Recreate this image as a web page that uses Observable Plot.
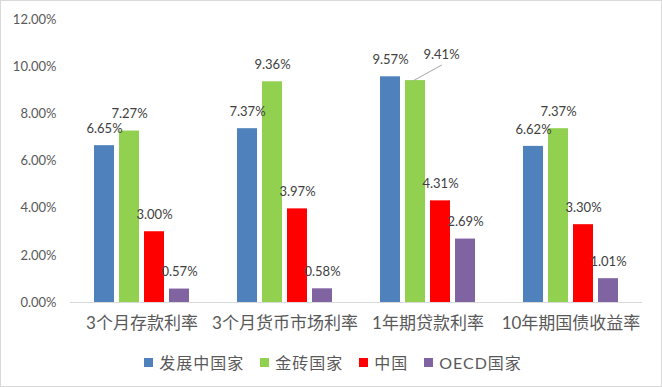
<!DOCTYPE html>
<html>
<head>
<meta charset="utf-8">
<script src="https://cdn.jsdelivr.net/npm/d3@7"></script>
<script src="https://cdn.jsdelivr.net/npm/@observablehq/plot@0.6"></script>
<style>
  html, body { margin: 0; padding: 0; background: #fff; }
  body { width: 662px; height: 387px; position: relative; overflow: hidden;
         font-family: Lato, "Noto Sans CJK SC", sans-serif; }
  #frame { position: absolute; left: 0; top: 0; width: 660px; height: 385px;
           border: 1px solid #d9d9d9; pointer-events: none; }
  #legend { display: flex; justify-content: center; align-items: center;
            height: 44px; font-size: 16px; color: #595959; padding-left: 4px; letter-spacing: 1px; }
  .item { display: flex; align-items: center; margin: 0 8px; }
  .sw { width: 9px; height: 9px; margin-right: 6px; }
</style>
</head>
<body>
<div id="chart"></div>
<div id="legend"></div>
<div id="frame"></div>
<script>
const categories = ["3个月存款利率", "3个月货币市场利率", "1年期贷款利率", "10年期国债收益率"];
const series = ["发展中国家", "金砖国家", "中国", "OECD国家"];
const developing = [6.65, 7.37, 9.57, 6.62];
const brics = [7.27, 9.36, 9.41, 7.37];
const china = [3.00, 3.97, 4.31, 3.30];
const oecd = [0.57, 0.58, 2.69, 1.01];
const yTicks = [0, 2, 4, 6, 8, 10, 12];
const colors = ["#4F81BD", "#92D050", "#FF0000", "#8064A2"];

const seriesValues = [developing, brics, china, oecd];
const data = [];
categories.forEach((c, ci) => {
  series.forEach((s, si) => {
    data.push({category: c, series: s, value: seriesValues[si][ci]});
  });
});
// label that Excel moved aside with a leader line
const isMoved = d => d.category === "1年期贷款利率" && d.series === "金砖国家";
const fmt = v => v.toFixed(2) + "%";

const chart = Plot.plot({
  width: 662,
  height: 340,
  marginLeft: 69,
  marginRight: 19,
  marginTop: 19,
  marginBottom: 38,
  style: {fontFamily: 'Lato, "Noto Sans CJK SC", sans-serif', color: "#595959", background: "#fff", overflow: "visible"},
  fx: {domain: categories, paddingInner: 0, paddingOuter: 0},
  x: {domain: series, paddingInner: 0.19, paddingOuter: 0.855, axis: null},
  y: {domain: [0, 12]},
  color: {domain: series, range: colors},
  marks: [
    Plot.axisY(yTicks, {tickSize: 0, tickPadding: 14, tickFormat: fmt, fontSize: 13, label: null}),
    Plot.axisFx({anchor: "bottom", tickSize: 0, tickPadding: 14, fontSize: 17, label: null}),
    Plot.barY(data, {fx: "category", x: "series", y: "value", fill: "series"}),
    Plot.ruleY([0], {stroke: "#d9d9d9", strokeWidth: 1}),
    Plot.text(data.filter(d => !isMoved(d)), {fx: "category", x: "series", y: "value", text: d => fmt(d.value), dy: -17, fill: "#404040", fontSize: 13}),
    Plot.text(data.filter(isMoved), {fx: "category", x: "series", y: "value", text: d => fmt(d.value), dx: 26, dy: -26, fill: "#404040", fontSize: 13}),
    Plot.vector(data.filter(isMoved), {
      fx: "category", x: "series", y: "value", dx: -2, length: 32, rotate: 61, anchor: "start",
      stroke: "#a6a6a6", strokeWidth: 1,
      shape: {draw(context, l) { context.moveTo(0, 0); context.lineTo(0, -l); }}
    })
  ]
});
document.getElementById("chart").appendChild(chart);

const legend = document.getElementById("legend");
series.forEach((s, i) => {
  const item = document.createElement("div");
  item.className = "item";
  const sw = document.createElement("span");
  sw.className = "sw";
  sw.style.background = colors[i];
  const lab = document.createElement("span");
  lab.textContent = s;
  item.appendChild(sw);
  item.appendChild(lab);
  legend.appendChild(item);
});
</script>
</body>
</html>
